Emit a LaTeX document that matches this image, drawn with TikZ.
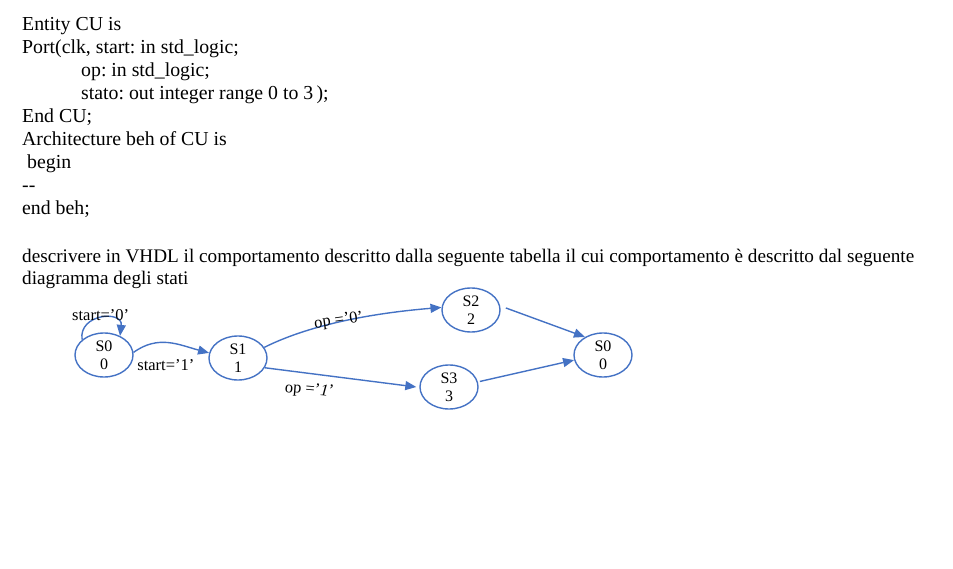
\documentclass[tikz,border=0pt]{standalone}
\usepackage{fontspec}
\setmainfont{Liberation Serif}
\usetikzlibrary{shapes.geometric,arrows.meta,positioning}
\definecolor{stateblue}{HTML}{4472C4}
\frenchspacing

\begin{document}
\begin{tikzpicture}[
    x=1pt, y=-1pt,
    codetext/.style={anchor=north west, align=left, inner sep=0pt, font=\fontsize{19.8}{23}\selectfont},
    desctext/.style={anchor=north west, align=left, inner sep=0pt, font=\fontsize{19.2}{22}\selectfont},
    state/.style={ellipse, draw=stateblue, line width=1.4pt, minimum width=58pt, minimum height=44pt, inner sep=0pt, align=center, font=\fontsize{16}{18}\selectfont},
    trans/.style={-{Triangle[length=11pt,width=9pt]}, draw=stateblue, line width=1.4pt},
    lbl/.style={text=black, font=\fontsize{16.5}{18}\selectfont, inner sep=1pt}
]
  \useasboundingbox (0,0) rectangle (953,569);

  \node[codetext] (code) at (22,17) {Entity CU is\\
    Port(clk, start: in std\_logic;\\
    \hspace*{59pt}op: in std\_logic;\\
    \hspace*{59pt}stato: out integer range 0 to 3\,);\\
    End CU;\\
    Architecture beh of CU is\\
    \hspace*{5pt}begin\\
    -{}-\\
    end beh;};
  \node[desctext] (desc) at (22,249) {descrivere in VHDL il comportamento descritto dalla seguente tabella il cui comportamento è descritto dal seguente\\
    diagramma degli stati};

  \node[state] (s0) at (104,355) {S0\\0};
  \node[state] (s1) at (238,358) {S1\\1};
  \node[state] (s2) at (471,310) {S2\\2};
  \node[state] (s3) at (449,387) {S3\\3};
  \node[state] (s0b) at (603,355) {S0\\0};

  \draw[trans] (s0.145) .. controls +(-4,-26) and +(3,-26) .. (s0.50)
    node[lbl, pos=0.5, above=-4pt] {start=’0’};
  \draw[trans] (s0.5) .. controls +(25,-18) and +(-30,-8) .. (s1.170)
    node[lbl, pos=0.45, below=15pt] {start=’1’};
  \draw[trans] (s1.22) .. controls +(50,-25) and +(-60,5) .. (s2.175)
    node[lbl, pos=0.45, above=-8pt, rotate=8] {op =’0’};
  \draw[trans] (s1.-20) -- ([xshift=-3pt]s3.west)
    node[lbl, pos=0.3, below=8pt, rotate=-5] {op =’\textit{1}’};
  \draw[trans, shorten <=6pt] (s2.8) -- (s0b.135);
  \draw[trans, shorten <=2pt] (s3.10) -- (s0b.190);
\end{tikzpicture}
\end{document}
